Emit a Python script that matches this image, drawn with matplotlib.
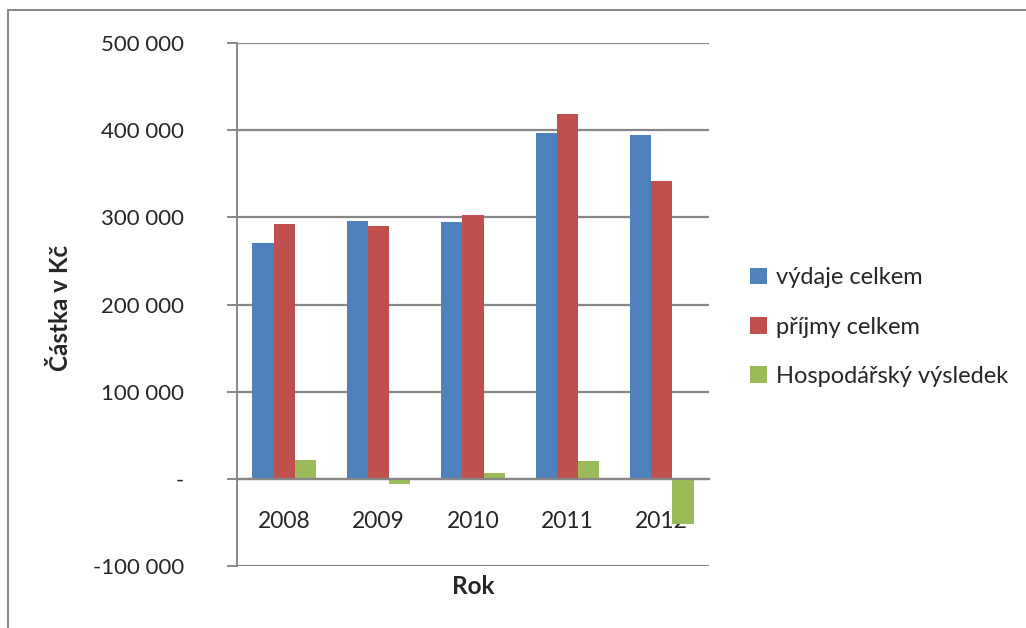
import numpy as np
import matplotlib.pyplot as plt
from matplotlib.patches import Rectangle

plt.rcParams['font.family'] = ['Lato', 'DejaVu Sans']

years = ["2008", "2009", "2010", "2011", "2012"]
vydaje = [270700, 296000, 295000, 397200, 394100]
prijmy = [292600, 290000, 302600, 418300, 342200]
vysledek = [21200, -5800, 6600, 20400, -51900]

series = [
    ("výdaje celkem", vydaje, "#4F81BD"),
    ("příjmy celkem", prijmy, "#C0504D"),
    ("Hospodářský výsledek", vysledek, "#9BBB59"),
]

grey = "#878787"
txt = "#262626"

fig = plt.figure(figsize=(10.26, 6.28), dpi=100)
ax = fig.add_axes([237 / 1026, 1 - 566 / 628, 472 / 1026, 523 / 628])

x = np.arange(len(years))
w = 0.224
for i, (name, vals, col) in enumerate(series):
    ax.bar(x + (i - 1) * w, vals, width=w, color=col, label=name, zorder=3)

ax.set_xlim(-0.5, len(years) - 0.5)
ax.set_ylim(-100000, 500000)
ticks = np.arange(-100000, 500001, 100000)
ax.set_yticks(ticks)


def fmt(v):
    if v == 0:
        return "-"
    return f"{int(v):,}".replace(",", " ")


ax.set_yticklabels([fmt(t) for t in ticks])
ax.yaxis.grid(True, color=grey, linewidth=1.6, zorder=0)
ax.tick_params(axis="y", length=7, width=1.4, color=grey, pad=31,
               labelsize=16, labelcolor=txt)

ax.spines["top"].set_visible(False)
ax.spines["right"].set_visible(False)
ax.spines["left"].set_color(grey)
ax.spines["left"].set_linewidth(1.4)
ax.spines["bottom"].set_position(("data", 0))
ax.spines["bottom"].set_color(grey)
ax.spines["bottom"].set_linewidth(1.6)
ax.spines["bottom"].set_zorder(4)

ax.set_xticks(x)
ax.set_xticklabels(years)
ax.tick_params(axis="x", length=0, pad=23, labelsize=16.5, labelcolor=txt)

fig.text(473 / 1026, 1 - 587 / 628, "Rok", ha="center", va="center",
         fontsize=17.5, fontweight="bold", color=txt)
fig.text(60 / 1026, 1 - 308 / 628, "Částka v Kč", ha="center", va="center",
         rotation=90, fontsize=17.5, fontweight="bold", color=txt)

ax.legend(loc="center left", bbox_to_anchor=(729 / 1026, 1 - 327 / 628),
          bbox_transform=fig.transFigure, frameon=False, fontsize=17,
          handlelength=0.7, handleheight=0.7, handletextpad=0.4,
          labelspacing=1.2, labelcolor=txt)

fig.patches.append(Rectangle((8 / 1026, -0.1), 1.2, 1 - 10 / 628 + 0.1,
                             transform=fig.transFigure, fill=False,
                             edgecolor=grey, linewidth=1.4))

fig.savefig("out.png", dpi=100)
